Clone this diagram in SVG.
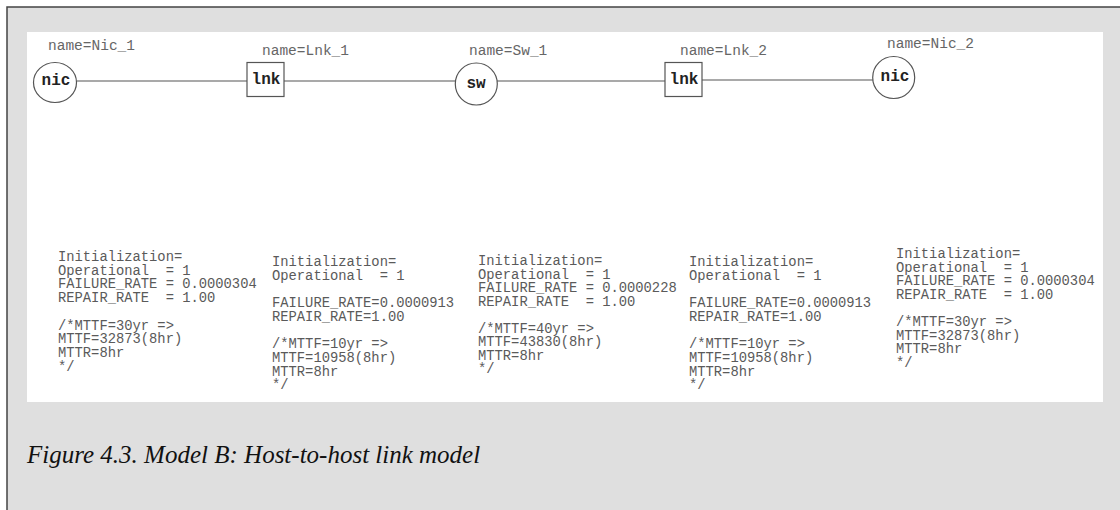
<svg xmlns="http://www.w3.org/2000/svg" width="1120" height="510" viewBox="0 0 1120 510">
  <defs>
    <style>
      .frame { fill: #dfdfdf; stroke: #444; stroke-width: 1.5; }
      .panel { fill: #ffffff; }
      .shape { fill: #ffffff; stroke: #555; stroke-width: 1.2; }
      .link { stroke: #555; stroke-width: 1.2; fill: none; }
      .tag { font-family: "Liberation Mono", "Courier New", monospace; font-size: 16px; font-weight: bold; fill: #222; text-anchor: middle; }
      .name { font-family: "Liberation Mono", "Courier New", monospace; font-size: 14.5px; fill: #666; }
      .attr { font-family: "Liberation Mono", "Courier New", monospace; font-size: 13.8px; fill: #5a5a5a; white-space: pre; }
      .caption { font-family: "Liberation Serif", "Times New Roman", serif; font-style: italic; font-size: 25px; fill: #111; }
    </style>
  </defs>

  <!-- outer frame and white drawing area -->
  <rect class="frame" x="7" y="7" width="1130" height="520"/>
  <rect class="panel" x="27" y="32" width="1076" height="370"/>

  <!-- connectors -->
  <g id="connectors">
    <line class="link" x1="76.5" y1="81" x2="247" y2="81"/>
    <line class="link" x1="284" y1="81" x2="455.5" y2="81"/>
    <line class="link" x1="497" y1="81" x2="665" y2="81"/>
    <line class="link" x1="702" y1="80" x2="873" y2="80"/>
  </g>

  <!-- nodes -->
  <g id="nic1">
    <ellipse class="shape" cx="55" cy="82.5" rx="21.5" ry="20"/>
    <text class="tag" x="56" y="85">nic</text>
    <text class="name" x="48" y="50">name=Nic_1</text>
  </g>
  <g id="lnk1">
    <rect class="shape" x="247" y="62.5" width="37" height="34"/>
    <text class="tag" x="266" y="83.5">lnk</text>
    <text class="name" x="262" y="55">name=Lnk_1</text>
  </g>
  <g id="sw1">
    <circle class="shape" cx="476.3" cy="84" r="21"/>
    <text class="tag" x="476" y="87.5">sw</text>
    <text class="name" x="469" y="55">name=Sw_1</text>
  </g>
  <g id="lnk2">
    <rect class="shape" x="665" y="62.5" width="37" height="34"/>
    <text class="tag" x="684" y="83.5">lnk</text>
    <text class="name" x="680" y="55">name=Lnk_2</text>
  </g>
  <g id="nic2">
    <circle class="shape" cx="893.7" cy="77.5" r="21"/>
    <text class="tag" x="895" y="80.5">nic</text>
    <text class="name" x="887" y="48">name=Nic_2</text>
  </g>

  <!-- attribute blocks -->
  <g id="attr-nic1">
    <text class="attr" xml:space="preserve" x="58" y="261"><tspan x="58" dy="0">Initialization=</tspan><tspan x="58" dy="13.7">Operational  = 1</tspan><tspan x="58" dy="13.7">FAILURE_RATE = 0.0000304</tspan><tspan x="58" dy="13.7">REPAIR_RATE  = 1.00</tspan><tspan x="58" dy="27.4">/*MTTF=30yr =&gt;</tspan><tspan x="58" dy="13.7">MTTF=32873(8hr)</tspan><tspan x="58" dy="13.7">MTTR=8hr</tspan><tspan x="58" dy="13.7">*/</tspan></text>
  </g>
  <g id="attr-lnk1">
    <text class="attr" xml:space="preserve" x="272" y="266"><tspan x="272" dy="0">Initialization=</tspan><tspan x="272" dy="13.7">Operational  = 1</tspan><tspan x="272" dy="27.4">FAILURE_RATE=0.0000913</tspan><tspan x="272" dy="13.7">REPAIR_RATE=1.00</tspan><tspan x="272" dy="27.4">/*MTTF=10yr =&gt;</tspan><tspan x="272" dy="13.7">MTTF=10958(8hr)</tspan><tspan x="272" dy="13.7">MTTR=8hr</tspan><tspan x="272" dy="13.7">*/</tspan></text>
  </g>
  <g id="attr-sw1">
    <text class="attr" xml:space="preserve" x="478" y="265"><tspan x="478" dy="0">Initialization=</tspan><tspan x="478" dy="13.5">Operational  = 1</tspan><tspan x="478" dy="13.5">FAILURE_RATE = 0.0000228</tspan><tspan x="478" dy="13.5">REPAIR_RATE  = 1.00</tspan><tspan x="478" dy="27">/*MTTF=40yr =&gt;</tspan><tspan x="478" dy="13.5">MTTF=43830(8hr)</tspan><tspan x="478" dy="13.5">MTTR=8hr</tspan><tspan x="478" dy="13.5">*/</tspan></text>
  </g>
  <g id="attr-lnk2">
    <text class="attr" xml:space="preserve" x="689" y="266"><tspan x="689" dy="0">Initialization=</tspan><tspan x="689" dy="13.7">Operational  = 1</tspan><tspan x="689" dy="27.4">FAILURE_RATE=0.0000913</tspan><tspan x="689" dy="13.7">REPAIR_RATE=1.00</tspan><tspan x="689" dy="27.4">/*MTTF=10yr =&gt;</tspan><tspan x="689" dy="13.7">MTTF=10958(8hr)</tspan><tspan x="689" dy="13.7">MTTR=8hr</tspan><tspan x="689" dy="13.7">*/</tspan></text>
  </g>
  <g id="attr-nic2">
    <text class="attr" xml:space="preserve" x="896" y="258"><tspan x="896" dy="0">Initialization=</tspan><tspan x="896" dy="13.6">Operational  = 1</tspan><tspan x="896" dy="13.6">FAILURE_RATE = 0.0000304</tspan><tspan x="896" dy="13.6">REPAIR_RATE  = 1.00</tspan><tspan x="896" dy="27.2">/*MTTF=30yr =&gt;</tspan><tspan x="896" dy="13.6">MTTF=32873(8hr)</tspan><tspan x="896" dy="13.6">MTTR=8hr</tspan><tspan x="896" dy="13.6">*/</tspan></text>
  </g>

  <!-- caption -->
  <text class="caption" x="27" y="463">Figure 4.3. Model B: Host-to-host link model</text>
</svg>
